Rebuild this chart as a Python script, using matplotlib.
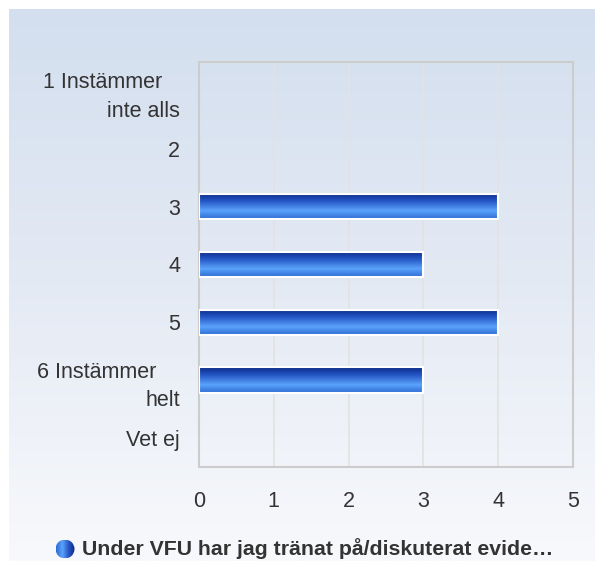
import numpy as np
import matplotlib
matplotlib.use("Agg")
import matplotlib.pyplot as plt
from matplotlib.colors import LinearSegmentedColormap
from matplotlib.patches import Circle, Rectangle

# Daten
categories = ["1 Instämmer\ninte alls", "2", "3", "4", "5", "6 Instämmer\nhelt", "Vet ej"]
values = [0, 0, 4, 3, 4, 3, 0]
x_ticks = [0, 1, 2, 3, 4, 5]
legend_label = "Under VFU har jag tränat på/diskuterat evide…"

plt.rcParams['font.family'] = ['Liberation Sans', 'DejaVu Sans']

W, H = 595, 561
fig = plt.figure(figsize=(W / 100, H / 100), dpi=100)
fig.patch.set_facecolor('white')

# Hintergrund mit Verlauf
bg_ax = fig.add_axes([9 / W, 0, 1 - 9 / W, 1 - 9 / H])
bg_cmap = LinearSegmentedColormap.from_list('bg', ['#d3dfef', '#e4eaf4', '#f8f9fc'])
bg_ax.imshow(np.linspace(0, 1, 256).reshape(-1, 1), aspect='auto', cmap=bg_cmap,
             extent=(0, 1, 0, 1), origin='upper')
bg_ax.set_axis_off()

# Diagrammbereich
left, right, top, bottom = 199, 573, 62, 467
ax = fig.add_axes([left / W, 1 - bottom / H, (right - left) / W, (bottom - top) / H])
ax.set_facecolor('none')

ypos = np.arange(len(categories))
bars = ax.barh(ypos, values, height=0.44, color='none', edgecolor='none')

bar_cmap = LinearSegmentedColormap.from_list(
    'bar', [(0.0, '#0a2a86'), (0.3, '#2455c4'), (0.68, '#5aa3fb'), (1.0, '#2c6bd3')])
grad = np.linspace(0, 1, 256).reshape(-1, 1)
for b in bars:
    if b.get_width() <= 0:
        continue
    x0, y0, w, h = b.get_x(), b.get_y(), b.get_width(), b.get_height()
    ax.imshow(grad, aspect='auto', cmap=bar_cmap, extent=(x0, x0 + w, y0 + h, y0),
              origin='upper', zorder=3)
    ax.add_patch(Rectangle((x0, y0), w, h, fill=False, edgecolor='white', lw=1.5, zorder=4))

ax.set_xlim(0, 5)
ax.set_ylim(len(categories) - 0.5, -0.5)
ax.set_xticks(x_ticks)
ax.set_xticklabels([str(t) for t in x_ticks])
ax.set_yticks(ypos)
labels = [c.replace("\n", "   \n") if c.startswith("1") else
          c.replace("\n", "    \n") if c.startswith("6") else c for c in categories]
ax.set_yticklabels(labels, multialignment='right', linespacing=1.45)
ax.tick_params(axis='both', length=0, labelsize=15.5, colors='#333333')
ax.tick_params(axis='y', pad=13.5)
ax.tick_params(axis='x', pad=17)
ax.grid(axis='x', color='#e2e2e2', lw=1.2)
ax.set_axisbelow(True)
for s in ax.spines.values():
    s.set_color('#cccccc')
    s.set_linewidth(1.5)

# Legende
cx, cy, r = 65, 549, 9.5
lax = fig.add_axes([(cx - r) / W, 1 - (cy + r) / H, 2 * r / W, 2 * r / H])
leg_cmap = LinearSegmentedColormap.from_list('leg', ['#2c6bd3', '#5aa3fb', '#2657c6', '#0a2a86'])
im = lax.imshow(np.linspace(0, 1, 64).reshape(1, -1), aspect='auto', cmap=leg_cmap,
                extent=(-1, 1, -1, 1))
circ = Circle((0, 0), 1, transform=lax.transData)
im.set_clip_path(circ)
lax.set_xlim(-1, 1)
lax.set_ylim(-1, 1)
lax.set_axis_off()
fig.text(82 / W, 1 - cy / H, legend_label, fontsize=15.3, fontweight='bold',
         color='#333333', va='center', ha='left')

fig.savefig('out.png', dpi=100)
